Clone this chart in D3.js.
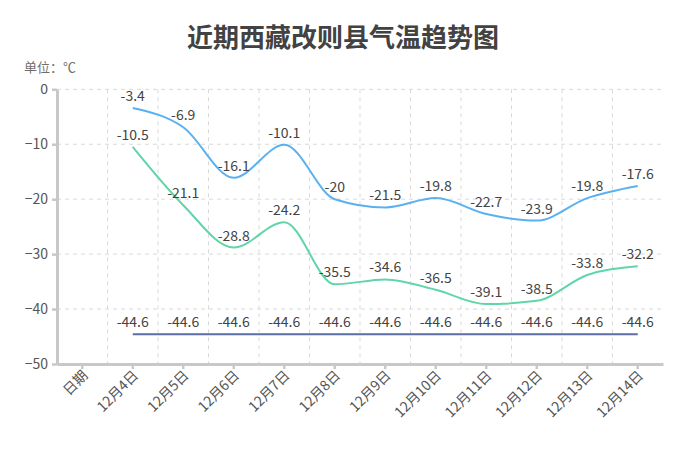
<!DOCTYPE html>
<html>
<head>
<meta charset="utf-8">
<script src="https://cdn.jsdelivr.net/npm/d3@7"></script>
<style>
  body { margin: 0; background: #fff; }
  svg { font-family: "Noto Sans CJK SC", "Noto Sans", sans-serif; }
</style>
</head>
<body>
<script>
const categories = ['日期', '12月4日', '12月5日', '12月6日', '12月7日', '12月8日', '12月9日',
    '12月10日', '12月11日', '12月12日', '12月13日', '12月14日'];
const days = categories.slice(1);
const highTemps = [-3.4, -6.9, -16.1, -10.1, -20, -21.5, -19.8, -22.7, -23.9, -19.8, -17.6];
const lowTemps = [-10.5, -21.1, -28.8, -24.2, -35.5, -34.6, -36.5, -39.1, -38.5, -33.8, -32.2];
const recordLow = [-44.6, -44.6, -44.6, -44.6, -44.6, -44.6, -44.6, -44.6, -44.6, -44.6, -44.6];
const yTicks = [0, -10, -20, -30, -40, -50];

const width = 686;
const height = 458;
const margin = { top: 89.3, right: 23, bottom: 94, left: 57 };

const svg = d3.select('body').append('svg')
    .attr('width', width)
    .attr('height', height);

const x = d3.scaleBand()
    .domain(categories)
    .range([margin.left, width - margin.right]);

const y = d3.scaleLinear()
    .domain([-50, 0])
    .range([height - margin.bottom, margin.top]);

const cx = d => x(d) + x.bandwidth() / 2;

// title
svg.append('text')
    .attr('x', 343)
    .attr('y', 47)
    .attr('text-anchor', 'middle')
    .style('font-size', '26px')
    .style('font-weight', 'bold')
    .style('fill', '#424242')
    .text('近期西藏改则县气温趋势图');

svg.append('text')
    .attr('x', 24)
    .attr('y', 72)
    .style('font-size', '13px')
    .style('fill', '#6e6e6e')
    .text('单位：℃');

// grid
svg.append('g')
    .selectAll('line.h')
    .data(yTicks)
    .enter().append('line')
    .attr('x1', margin.left)
    .attr('x2', width - margin.right)
    .attr('y1', d => y(d))
    .attr('y2', d => y(d))
    .attr('stroke', '#d9d9d9')
    .attr('stroke-dasharray', '4,4');

svg.append('g')
    .selectAll('line.v')
    .data(categories.slice(1))
    .enter().append('line')
    .attr('x1', d => x(d))
    .attr('x2', d => x(d))
    .attr('y1', y(0))
    .attr('y2', y(-50))
    .attr('stroke', '#d9d9d9')
    .attr('stroke-dasharray', '4,4');

// axes
const yAxis = svg.append('g')
    .attr('transform', `translate(${margin.left},0)`)
    .call(d3.axisLeft(y).tickValues(yTicks).tickSize(5).tickSizeOuter(0).tickPadding(4));

const xAxis = svg.append('g')
    .attr('transform', `translate(0,${y(-50)})`)
    .call(d3.axisBottom(x).tickSize(5).tickSizeOuter(0).tickPadding(8));

[yAxis, xAxis].forEach((g) => {
    g.select('.domain').attr('stroke', '#c8c8c8').attr('stroke-width', 3);
    g.selectAll('.tick line').attr('stroke', '#c8c8c8').attr('stroke-width', 2.5);
    g.selectAll('.tick text')
        .style('font-family', '"Noto Sans CJK SC", "Noto Sans", sans-serif')
        .style('font-size', '14px')
        .style('fill', '#555');
});

xAxis.selectAll('.tick text')
    .attr('text-anchor', 'end')
    .attr('dy', '0.35em')
    .attr('y', 0)
    .attr('transform', 'translate(3,9) rotate(-45)');

// lines
const line = d3.line()
    .x((d, i) => cx(days[i]))
    .y(d => y(d))
    .curve(d3.curveMonotoneX);

const series = [
    { values: highTemps, color: '#5ab1ef' },
    { values: lowTemps, color: '#60d5a8' },
    { values: recordLow, color: '#5b6ea3' },
];

series.forEach((s) => {
    svg.append('path')
        .datum(s.values)
        .attr('d', line)
        .attr('fill', 'none')
        .attr('stroke', s.color)
        .attr('stroke-width', 2);

    svg.append('g')
        .selectAll('text')
        .data(s.values)
        .enter().append('text')
        .attr('x', (d, i) => cx(days[i]))
        .attr('y', d => y(d) - 7)
        .attr('text-anchor', 'middle')
        .style('font-size', '14px')
        .style('fill', '#444')
        .text(d => d);
});
</script>
</body>
</html>
